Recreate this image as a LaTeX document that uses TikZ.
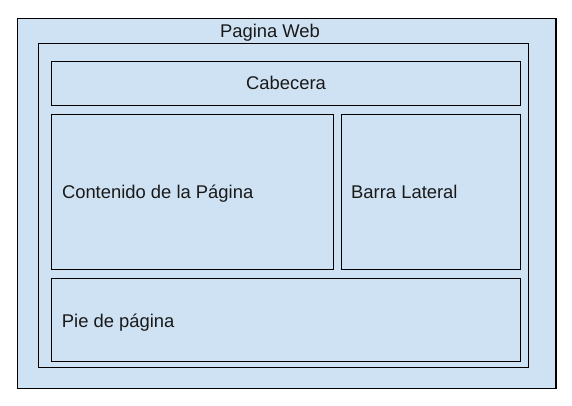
\documentclass[tikz,border=0pt]{standalone}
\usepackage{fontspec}
\setmainfont{Liberation Sans}
\definecolor{boxfill}{HTML}{CFE2F3}
\begin{document}
\begin{tikzpicture}[x=1pt,y=-1pt,
  box/.style={draw=black,fill=boxfill,line width=1.3pt,rectangle,inner sep=0pt,outer sep=0pt},
  lbl/.style={font=\fontsize{18.4}{21}\selectfont,inner sep=0pt,text=black!90}]
\useasboundingbox (0,0) rectangle (572,406);
\fill[white] (0,0) rectangle (572,406);
\node[box,anchor=north west,minimum width=538.5pt,minimum height=369.8pt] (web) at (17.5,18.5) {};
\node[box,anchor=north west,minimum width=490.2pt,minimum height=323.8pt] (inner) at (38.5,43.5) {};
\node[box,anchor=north west,minimum width=469.4pt,minimum height=44pt] (cab) at (51.3,61.3) {};
\node[box,anchor=north west,minimum width=282pt,minimum height=155pt] (cont) at (51.3,114.3) {};
\node[box,anchor=north west,minimum width=179.4pt,minimum height=155pt] (barra) at (341.3,114.3) {};
\node[box,anchor=north west,minimum width=469.4pt,minimum height=83.4pt] (pie) at (51.3,278.3) {};
\node[lbl,anchor=base] (tweb) at (270,38) {Pagina Web};
\node[lbl,anchor=base] (tcab) at ([yshift=-6.6pt]cab.center) {Cabecera};
\node[lbl,anchor=base west] (tcont) at ([xshift=10.5pt,yshift=-7pt]cont.west) {Contenido de la Página};
\node[lbl,anchor=base west] (tbarra) at ([xshift=9.7pt,yshift=-7pt]barra.west) {Barra Lateral};
\node[lbl,anchor=base west] (tpie) at ([xshift=10.4pt,yshift=-7pt]pie.west) {Pie de página};
\end{tikzpicture}
\end{document}
